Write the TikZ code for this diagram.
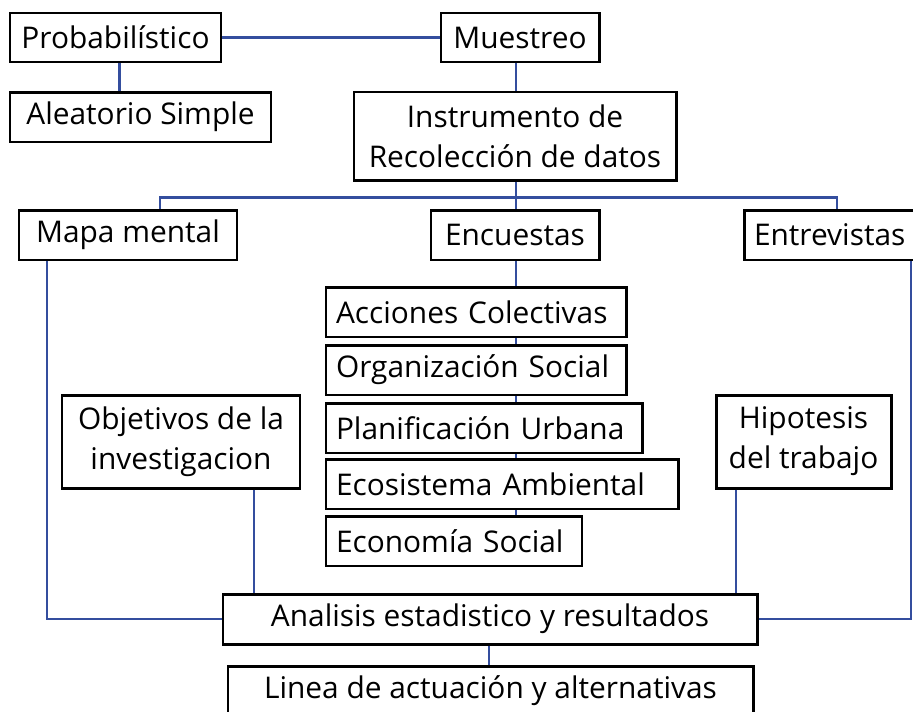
\documentclass[tikz,border=0pt]{standalone}
\usepackage{fontspec}
\setmainfont{Open Sans}
\usepackage{tikz}
\usetikzlibrary{calc}
\definecolor{LinkBlue}{RGB}{52, 78, 158}

\tikzset{
  box/.style={draw=black, line width=1.7pt, inner sep=0pt, minimum height=1cm,
              align=center, font=\fontsize{17}{22.8}\selectfont},
  topic/.style={box, align=left, inner xsep=10*0.02cm},
  link/.style={LinkBlue, line width=1.6pt}
}

\begin{document}
\begin{tikzpicture}[x=0.02cm, y=-0.02cm]
\useasboundingbox (0,0) rectangle (913,711);
% top
\node[box, minimum width=211*0.02cm, minimum height=49*0.02cm] (prob) at (115.5,37.5) {Probabilístico};
\node[box, minimum width=158*0.02cm, minimum height=49*0.02cm] (mues) at (520,37.5) {Muestreo};
\node[box, minimum width=261*0.02cm] (alea) at (140.5,117) {Aleatorio Simple};
\node[box, minimum width=322*0.02cm, minimum height=88*0.02cm] (instr) at (515,136) {Instrumento de\\Recolección de datos};
% instruments
\node[box, minimum width=218*0.02cm] (mapa) at (128,235) {Mapa mental};
\node[box, minimum width=168*0.02cm] (encu) at (515,235) {Encuestas};
\node[topic, text width=154*0.02cm] (entr) at (831,235) {Entrevistas};
% topics
\node[topic, text width=280*0.02cm] (acc) at (476,312) {Acciones Colectivas};
\node[topic, text width=280*0.02cm] (org) at (476,370) {Organización Social};
\node[topic, text width=296*0.02cm] (plan) at (484,428) {Planificación Urbana};
\node[topic, text width=332*0.02cm] (eco) at (502,484) {Ecosistema Ambiental};
\node[topic, text width=236*0.02cm] (econ) at (454,541) {Economía Social};
\node[box, minimum width=238*0.02cm, minimum height=93*0.02cm] (obj) at (181,441.5) {Objetivos de la\\investigacion};
\node[box, minimum width=175*0.02cm, minimum height=93*0.02cm] (hip) at (803.5,441.5) {Hipotesis\\del trabajo};
% bottom
\node[box, minimum width=534*0.02cm] (anal) at (490,619) {Analisis estadistico y resultados};
\node[box, minimum width=525*0.02cm] (lin) at (490.5,691) {Linea de actuación y alternativas};

\draw[link] (prob.east) -- (mues.west);
\draw[link] ($(prob.south)+(4,0)$) -- ($(alea.north)+(-21,0)$);
\draw[link] ($(mues.south)+(-4,0)$) -- ($(instr.north)+(1,0)$);
\draw[link] ($(instr.south)+(1,0)$) -- ($(encu.north)+(1,0)$);
\draw[link] ($(mapa.north)+(32,0)$) |- ($(instr.south)+(1,16)$) -| ($(entr.north)+(6,0)$);
\draw[link] ($(encu.south)+(1,0)$) -- ($(acc.north)+(40,0)$);
\foreach \a/\b in {acc/org, org/plan, plan/eco, eco/econ}
  \draw[link] ($(encu.south |- \a.south)+(1,0)$) -- ($(encu.south |- \b.north)+(1,0)$);
\draw[link] ($(mapa.south)+(-81,0)$) |- (anal.west);
\draw[link] ($(entr.south)+(80,0)$) |- (anal.east);
\draw[link] ($(obj.south)+(73,0)$) -- ($(anal.north)+(-236,0)$);
\draw[link] ($(hip.south)+(-67.5,0)$) -- ($(anal.north)+(246,0)$);
\draw[link] ($(anal.south)+(-1,0)$) -- ($(lin.north)+(-1.5,0)$);
\end{tikzpicture}
\end{document}
